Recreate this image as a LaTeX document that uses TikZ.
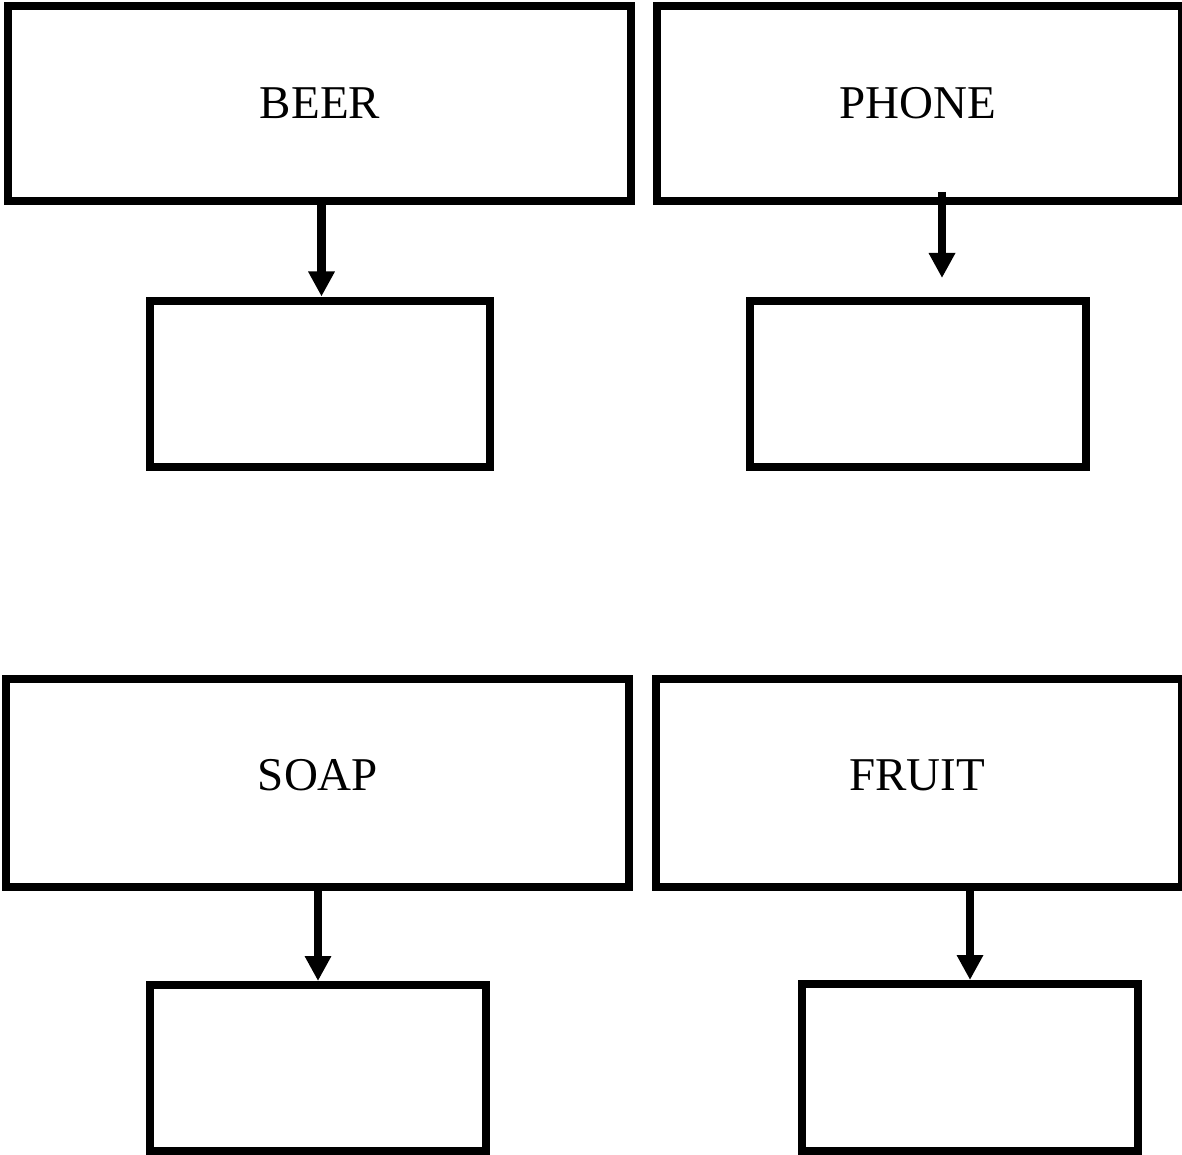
\documentclass[tikz,border=0pt]{standalone}
\usepackage{fontspec}
\setmainfont{Liberation Serif}
\usetikzlibrary{arrows.meta}
\begin{document}
\begin{tikzpicture}[x=1pt,y=-1pt,
  box/.style={draw=black,line width=8pt,fill=white,inner sep=0pt,minimum width=#1},
  lbl/.style={font=\fontsize{47}{56}\selectfont,inner sep=0pt},
  arr/.style={draw=black,line width=8.5pt,-{Triangle[width=25pt,length=25pt]}}]
\useasboundingbox (0,0) rectangle (1182,1155);
% top row
\node[box=623pt,minimum height=195pt] (beer) at (319.5,103.5) {};
\node[box=525pt,minimum height=195pt] (phone) at (919.5,103.5) {};
\node[box=340pt,minimum height=166pt] (beersm) at (320,384) {};
\node[box=336pt,minimum height=166pt] (phonesm) at (918,384) {};
% bottom row
\node[box=623pt,minimum height=208pt] (soap) at (317.5,783) {};
\node[box=526pt,minimum height=208pt] (fruit) at (919,783) {};
\node[box=336pt,minimum height=166pt] (soapsm) at (318,1068) {};
\node[box=336pt,minimum height=167pt] (fruitsm) at (970,1067.5) {};
% labels
\node[lbl] (beert) at (320,103) {BEER};
\node[lbl] (phonet) at (918,103) {PHONE};
\node[lbl] (soapt) at (318,775) {SOAP};
\node[lbl] (fruitt) at (917,775) {FRUIT};
% arrows
\draw[arr,shorten >=0.5pt] ([xshift=2pt]beer.south) -- ([xshift=1.5pt]beersm.north);
\draw[arr,shorten >=19pt] ([xshift=22.5pt,yshift=13pt]phone.south) -- ([xshift=24pt]phonesm.north);
\draw[arr,shorten >=0pt] ([xshift=0.5pt]soap.south) -- (soapsm.north);
\draw[arr,shorten >=0pt] ([xshift=51pt]fruit.south) -- (fruitsm.north);
\end{tikzpicture}
\end{document}
